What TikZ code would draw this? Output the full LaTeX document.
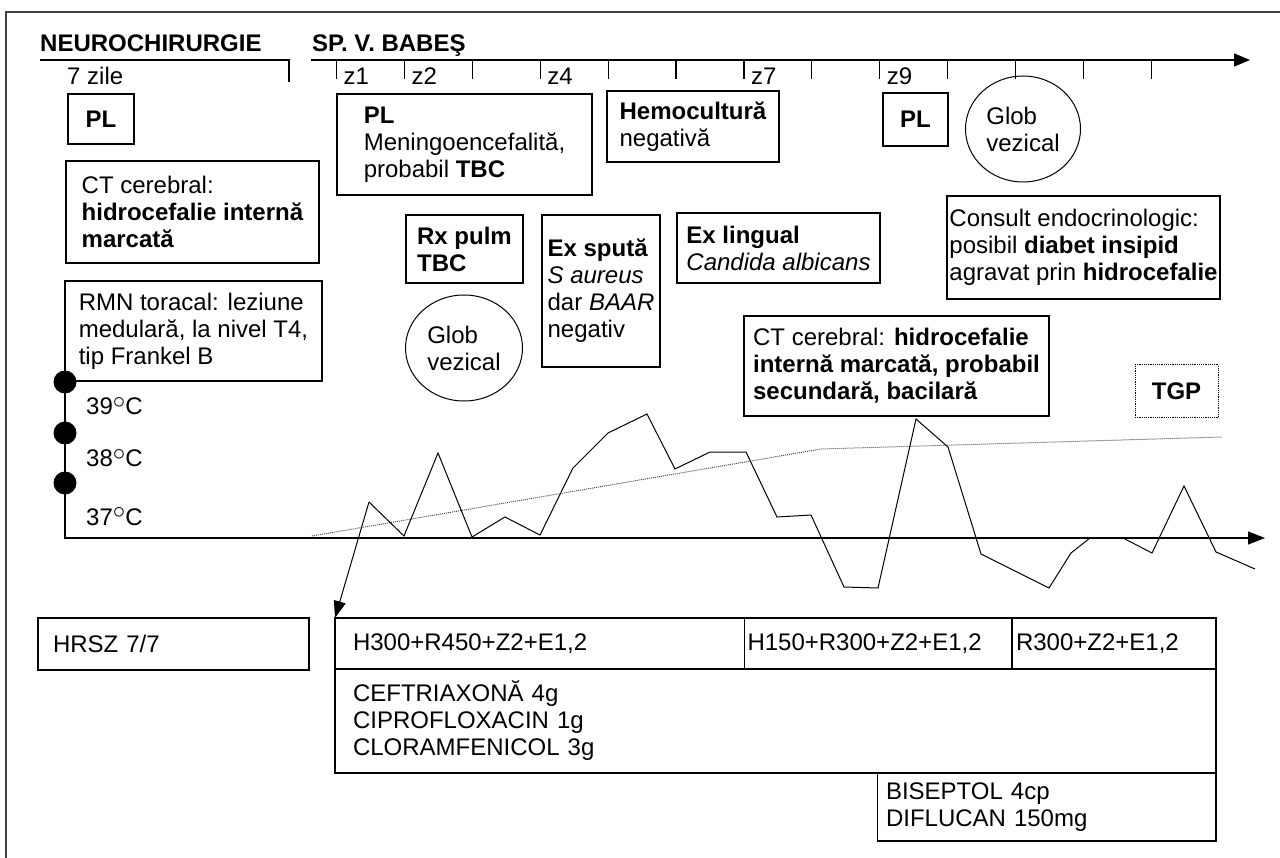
\documentclass[tikz,border=0pt]{standalone}
\usepackage{fontspec}
\setmainfont{Liberation Sans}
\usetikzlibrary{arrows.meta,shapes.geometric}
\newcommand\tdeg{\raisebox{6.5pt}{\fontsize{24}{24}\selectfont$\circ$}}
\tikzset{
  box/.style={draw,line width=1.2pt,anchor=north west,align=left,inner sep=0pt,outer sep=0pt},
  tag/.style={box,align=center,font=\fontsize{24}{27}\selectfont\bfseries},
  glob/.style={draw,ellipse,line width=1pt,align=left,inner sep=0pt},
  lbl/.style={anchor=base west,inner sep=0pt},
}
\begin{document}
\begin{tikzpicture}[x=1pt,y=-1pt,font=\fontsize{24}{27}\selectfont]
\useasboundingbox (0,0) rectangle (1280,858);
\draw[line width=1.6pt,black!75] (1280,12) -- (6,12) -- (6,858);
% timeline
\node[lbl,font=\fontsize{24}{27}\selectfont\bfseries] (neuro) at (40,52) {NEUROCHIRURGIE};
\node[lbl,font=\fontsize{24}{27}\selectfont\bfseries] (babes) at (312,52) {SP. V. BABEŞ};
\draw[line width=1.2pt] (40,60) -- (289,60) -- (289,82);
\draw[line width=1.2pt,-{Triangle[length=16pt,width=13pt]}] (311,60) -- (1250,60);
\foreach \i in {0,...,12} \draw[line width=1.2pt] ({336.5+67.9*\i},60) -- ++(0,19);
\node[lbl] (zile) at (67,85) {7 zile};
\foreach \i/\z in {0/1,1/2,3/4,6/7,8/9} \node[lbl] (z\z) at ({343.5+67.9*\i},85) {z\z};
% boxes
\node[tag,minimum width=66pt,minimum height=50pt] (pla) at (68,94) {PL};
\node[box,minimum width=253pt,minimum height=102pt] (ct) at (66,161) {CT cerebral:\\ \textbf{hidrocefalie internă}\\ \textbf{marcată}};
\node[box,minimum width=257pt,minimum height=100pt] (rmn) at (65,281) {RMN toracal: leziune\\ medulară, la nivel T4,\\ tip Frankel B};
\node[box,minimum width=255pt,minimum height=101pt] (plb) at (337,94) {\textbf{PL}\\ Meningoencefalită,\\ probabil \textbf{TBC}};
\node[box,minimum width=172pt,minimum height=71pt] (hemo) at (607,91) {\textbf{Hemocultură}\\ negativă};
\node[tag,minimum width=65pt,minimum height=53pt] (plc) at (883,93) {PL};
\node[glob,minimum width=115pt,minimum height=106pt] (globb) at (1023,129) {Glob\\ vezical};
\node[box,minimum width=117pt,minimum height=68pt] (rx) at (406,215) {\textbf{Rx pulm}\\ \textbf{TBC}};
\node[box,minimum width=118pt,minimum height=152pt] (sputa) at (542,215) {\textbf{Ex spută}\\ \textit{S aureus}\\ dar \textit{BAAR}\\ negativ};
\node[box,minimum width=203pt,minimum height=70pt] (lingual) at (677,213) {\textbf{Ex lingual}\\ \textit{Candida albicans}};
\node[glob,minimum width=117pt,minimum height=106pt] (globa) at (464,348) {Glob\\ vezical};
\node[box,minimum width=273pt,minimum height=103pt] (consult) at (947,196) {Consult endocrinologic:\\ posibil \textbf{diabet insipid}\\ agravat prin \textbf{hidrocefalie}};
\node[box,minimum width=305pt,minimum height=100pt] (ctb) at (744,316) {CT cerebral: \textbf{hidrocefalie}\\ \textbf{internă marcată, probabil}\\ \textbf{secundară, bacilară}};
\node[tag,densely dotted,line width=1pt,minimum width=83pt,minimum height=53pt] (tgp) at (1135,365) {TGP};
% temperature
\draw[line width=1.2pt,-{Triangle[length=17pt,width=13pt]}] (65,382) |- (1265,538);
\foreach \y in {382,433,483} \fill (65,\y) circle (11.5pt);
\node[lbl] (t39) at (86,415) {39\tdeg C};
\node[lbl] (t38) at (86,467) {38\tdeg C};
\node[lbl] (t37) at (86,525) {37\tdeg C};
\draw[densely dotted,line width=1pt,black!70] (312,536) -- (821,449) -- (1222,437);
\coordinate (peak) at (369,502);
\draw[line width=1pt] (peak) -- (404,536) -- (438,453) -- (472,537) -- (505,517) -- (540,535) -- (573,468)
  -- (608,433) -- (647,414) -- (675,469) -- (710,452) -- (746,452) -- (777,517) -- (811,515) -- (844,587)
  -- (878,588) -- (916,419) -- (948,447) -- (981,554) -- (1049,588) -- (1071,553) -- (1090,538) -- (1123,538)
  -- (1152,553) -- (1184,486) -- (1216,552) -- (1255,569);
% treatment
\node[box,text width=241pt,inner xsep=15pt,minimum height=52pt] (hrsz) at (38,618) {HRSZ 7/7};
\node[box,text width=373.5pt,inner xsep=18pt,minimum height=51pt] (rega) at (335,618) {H300+R450+Z2+E1,2};
\node[box,text width=261.5pt,inner xsep=3pt,minimum height=51pt] (regb) at (rega.north east) {H150+R300+Z2+E1,2};
\node[box,text width=196pt,inner xsep=4pt,minimum height=51pt] (regc) at (regb.north east) {R300+Z2+E1,2};
\node[box,text width=845pt,inner xsep=18pt,minimum height=104pt] (ceft) at (rega.south west) {CEFTRIAXONĂ 4g\\ CIPROFLOXACIN 1g\\ CLORAMFENICOL 3g};
\node[box,anchor=north east,text width=321.5pt,inner xsep=8.5pt,minimum height=68pt] (bisep) at (ceft.south east) {BISEPTOL 4cp\\ DIFLUCAN 150mg};
\draw[line width=2.4pt] (bisep.north west) -- (bisep.north east);
\draw[line width=1pt,-{Triangle[length=17pt,width=12pt]}] (peak) -- (rega.north west);
\end{tikzpicture}
\end{document}
